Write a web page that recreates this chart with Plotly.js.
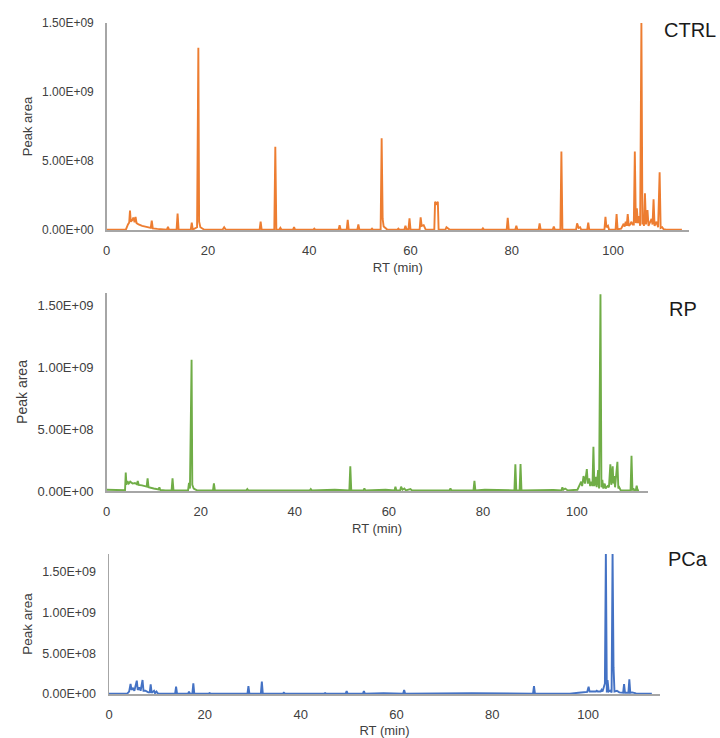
<!DOCTYPE html>
<html>
<head>
<meta charset="utf-8">
<script src="https://cdn.plot.ly/plotly-3.0.1.min.js"></script>
<style>html,body{margin:0;padding:0;background:#fff;}#chart{width:720px;height:738px;}</style>
</head>
<body>
<div id="chart"></div>
<script>
// ---------- data ----------
const sampleNames = ["CTRL", "RP", "PCa"];
const rtTicks = [0, 20, 40, 60, 80, 100];
const rtTickLabels = ["0", "20", "40", "60", "80", "100"];
const areaTicks = [0, 5e8, 1e9, 1.5e9];
const areaTickLabels = ["0.00E+00", "5.00E+08", "1.00E+09", "1.50E+09"];

const ctrlRT = [0,3.8,4.2,4.45,4.6,4.75,5.0,5.3,5.5,5.7,5.9,6.3,7.0,8.0,8.7,8.9,9.1,10.0,11.2,11.9,12.1,12.3,13.8,14.0,14.2,16.6,16.8,17.0,17.85,18.0,18.1,18.25,18.5,19.2,22.9,23.2,23.5,30.2,30.4,30.6,33.1,33.3,33.5,34.1,34.3,34.5,36.8,37.0,37.2,40.8,41.0,41.2,45.8,46.0,46.2,47.4,47.6,47.8,49.5,49.7,49.9,52.2,52.4,52.6,54.1,54.3,54.5,54.7,55.0,55.4,57.4,57.6,57.8,58.8,59.0,59.2,59.6,59.8,60.0,61.8,62.0,62.2,62.6,63.0,64.7,64.85,65.15,65.4,65.55,66.9,67.1,67.4,67.7,74.1,74.3,74.5,79.0,79.2,79.4,80.7,80.9,81.1,85.3,85.5,85.7,88.1,88.3,88.5,89.6,89.8,90.0,92.7,92.9,93.2,93.5,93.7,94.9,95.1,95.3,98.3,98.5,98.7,99.0,99.2,100.5,100.7,100.9,101.6,102.1,102.3,102.5,102.7,102.9,103.1,103.4,103.6,103.9,104.1,104.3,104.5,104.7,104.9,105.1,105.35,105.6,105.8,105.95,106.1,106.3,106.5,106.8,107.0,107.3,107.6,107.8,108.0,108.2,108.6,108.9,109.2,109.4,109.7,110.0,110.5,113.6];
const ctrlArea = [3e6,4e6,4e7,5.5e7,1.4e8,6e7,7e7,9e7,5.5e7,9.4e7,5e7,4e7,3e7,1.8e7,1.5e7,6.7e7,1.2e7,8e6,5e6,3e6,2.4e7,3e6,3e6,1.2e8,3e6,3e6,5.3e7,3e6,2e7,1.0e9,1.32e9,6e7,2e7,4e6,3e6,2e7,3e6,3e6,6e7,3e6,3e6,6.04e8,3e6,3e6,1.5e7,3e6,3e6,2e7,3e6,3e6,1e7,3e6,3e6,3.4e7,3e6,3e6,7.3e7,3e6,3e6,4e7,3e6,3e6,1e7,3e6,3e6,6.65e8,8e7,2.5e7,1.5e7,3e6,3e6,1e7,3e6,3e6,3e7,5e6,5e6,8.5e7,3e6,3e6,9.2e7,3e7,3.5e7,3e6,3e6,2.05e8,1.9e8,2.05e8,3e6,3e6,2e7,1.2e7,3e6,3e6,1.2e7,3e6,3e6,8.9e7,3e6,3e6,3e7,3e6,3e6,4.8e7,3e6,3e6,2.5e7,3e6,3e6,5.68e8,3e6,3e6,4.8e7,1.5e7,2e7,3e6,3e6,5.3e7,3e6,3e6,9.6e7,2e7,3e7,3e6,3e6,1.15e8,5e6,1e7,4.5e7,2.5e7,6e7,3e7,1.15e8,3e7,4e7,6e7,4e7,4e7,5.68e8,5e7,1.57e8,5e7,1e8,3e7,1.5e9,4e7,1.0e8,3e7,2.66e8,4e7,1.45e8,3e7,5e7,8e7,4e7,2.22e8,3e7,6e7,2e7,4.18e8,1.5e7,2e7,5e6,3e6,3e6];

const rpRT = [0,3.9,4.05,4.2,4.4,4.7,5.0,5.5,6.0,6.4,6.6,6.8,7.5,8.5,8.7,8.9,10.0,11.0,11.2,11.4,12.5,13.8,14.0,14.2,17.3,17.5,17.7,17.9,18.05,18.2,18.5,19.2,22.6,22.8,23.0,29.7,29.9,30.1,43.2,43.4,43.6,48.5,49.9,51.6,51.8,52.0,54.6,54.8,55.0,57.8,59.3,61.2,61.4,61.6,62.4,62.6,62.9,63.3,63.6,64.6,64.9,72.9,73.1,73.3,78.0,78.2,78.4,80.4,86.7,86.9,87.1,87.8,88.0,88.2,92.6,95.0,96.7,96.9,97.1,97.5,97.7,98.0,100.1,100.9,101.1,101.4,101.7,102.1,102.3,102.6,102.8,103.1,103.3,103.5,103.7,104.0,104.2,104.5,104.7,105.0,105.2,105.4,105.6,105.9,106.1,106.5,106.8,107.1,107.3,107.6,107.75,107.9,108.1,108.6,108.8,109.0,109.3,111.4,111.6,111.8,112.0,112.2,112.5,112.7,112.9,113.2];
const rpArea = [1e7,6e6,1.5e8,5e7,8e7,6e7,7.5e7,6e7,6.5e7,5.5e7,8e7,5e7,4.5e7,3.5e7,1.02e8,3e7,2e7,1.2e7,3e7,8e6,5e6,5e6,1.02e8,5e6,5e6,6.5e7,2e7,7.3e8,1.06e9,5e7,2e7,5e6,5e6,6.2e7,5e6,5e6,1.5e7,5e6,5e6,1.5e7,5e6,1e7,1e7,5e6,2.0e8,5e6,5e6,2e7,5e6,1e7,1e7,5e6,3.5e7,5e6,5e6,3.5e7,1e7,2e7,5e6,1.6e7,5e6,5e6,2e7,5e6,5e6,8.3e7,5e6,1e7,5e6,2.15e8,5e6,5e6,2.17e8,5e6,1e7,8e6,5e6,3e7,1e7,2e7,1.5e7,5e6,1e7,7.5e7,4e7,1.21e8,6e7,1.77e8,6e7,1.02e8,4e7,7.5e7,4e7,3.57e8,4e7,1.15e8,3e7,1.69e8,2e7,1.59e9,3e7,9e7,2e7,6e7,2e7,4e7,3e7,2.15e8,5e7,2.0e8,6e7,1.2e8,3e7,2.36e8,2e7,3e7,5e6,5e6,2.85e8,5e6,2e7,5e6,5e6,4.3e7,5e6,5e6];

const pcaRT = [0,1.8,2.0,3.8,4.2,4.5,4.7,5.0,5.3,5.8,6.0,6.3,6.6,7.0,7.2,7.6,8.2,8.5,8.7,8.9,9.4,9.6,9.9,10.2,11.0,13.8,14.0,14.2,16.5,16.7,16.9,17.4,17.6,17.8,20.8,21.0,21.2,28.9,29.1,29.3,31.7,31.9,32.1,36.3,36.5,36.7,44.9,45.1,45.3,49.4,49.6,49.8,53.0,53.2,53.4,57.3,61.4,61.6,61.8,67.4,75.7,88.5,88.7,88.9,96.2,98.0,99.8,100.1,100.3,101.6,101.8,102.0,102.6,102.8,103.0,103.5,103.7,103.9,104.05,104.3,104.6,104.9,105.1,105.3,105.5,106.0,106.5,107.3,107.5,107.7,108.4,108.6,108.8,109.2,110.0,113.3];
const pcaArea = [5e6,3e6,1e6,5e6,3e7,1.23e8,5e7,7e7,4e7,1.64e8,5e7,8e7,4e7,1.72e8,4e7,4e7,2e7,2e7,1.19e8,1.5e7,4e7,1e7,3e7,8e6,5e6,5e6,9e7,5e6,5e6,2.9e7,5e6,5e6,1.31e8,5e6,5e6,1.2e7,5e6,5e6,9.8e7,5e6,5e6,1.52e8,5e6,5e6,1.5e7,5e6,5e6,1.2e7,5e6,5e6,3.7e7,5e6,5e6,3.7e7,5e6,1e7,5e6,4.9e7,5e6,1e7,1e7,5e6,9.8e7,5e6,5e6,1.5e7,2.5e7,9e7,3e7,3e7,4e7,3e7,3e7,5e7,3e7,1.3e8,1.75e9,2e7,1.7e8,3e7,4e7,2e7,1.75e9,3.3e8,3e7,4e7,2e7,1.5e7,1.23e8,1.5e7,1.5e7,1.8e8,1.5e7,2e7,8e6,5e6];

const seriesColors = ["#ED7D31", "#70AD47", "#4472C4"];
const areaMax = [1.5e9, 1.6e9, 1.72e9];

// ---------- traces ----------
const rts = [ctrlRT, rpRT, pcaRT];
const areas = [ctrlArea, rpArea, pcaArea];
const traces = sampleNames.map((name, i) => ({
  type: "scatter",
  mode: "lines",
  name: name,
  x: rts[i],
  y: areas[i],
  xaxis: i === 0 ? "x" : "x" + (i + 1),
  yaxis: i === 0 ? "y" : "y" + (i + 1),
  line: { color: seriesColors[i], width: 1.9 },
  hoverinfo: "skip"
}));

// ---------- layout ----------
const W = 720, H = 738;
const FONT = "Liberation Sans, Arial, sans-serif";
// pixel boxes of the three plot areas: [left, right, top, bottom]
const boxes = [[106.7, 689, 23, 230], [106.7, 647.5, 293, 491], [109, 660, 554, 694]];
const ytitleSize = [13, 14, 13.5];
const ytickSize = [12, 13, 12.5];

function xAxis(i) {
  const b = boxes[i];
  return {
    domain: [b[0] / W, b[1] / W],
    anchor: i === 0 ? "y" : "y" + (i + 1),
    range: [0, 115],
    tickvals: rtTicks,
    ticktext: rtTickLabels,
    ticks: "",
    ticklabelstandoff: 8,
    showgrid: false,
    zeroline: false,
    showline: true,
    linecolor: "#a6a6a6",
    linewidth: 1.5,
    layer: "below traces",
    tickfont: { family: FONT, size: 13, color: "#404040" },
    title: { text: "RT (min)", font: { family: FONT, size: 13, color: "#404040" }, standoff: 6 },
    fixedrange: true
  };
}
function yAxis(i) {
  const b = boxes[i];
  return {
    domain: [1 - b[3] / H, 1 - b[2] / H],
    anchor: i === 0 ? "x" : "x" + (i + 1),
    range: [0, areaMax[i]],
    tickvals: areaTicks,
    ticktext: areaTickLabels,
    ticks: "",
    ticklabelstandoff: 9,
    showgrid: false,
    zeroline: false,
    showline: true,
    linecolor: "#a6a6a6",
    linewidth: 1.5,
    layer: "below traces",
    tickfont: { family: FONT, size: ytickSize[i], color: "#404040" },
    title: { text: "Peak area", font: { family: FONT, size: ytitleSize[i], color: "#404040" }, standoff: 6 },
    fixedrange: true
  };
}

const labelPos = [[662, 29.7], [666.7, 309], [666, 559]];
const layout = {
  width: W, height: H,
  margin: { l: 0, r: 0, t: 0, b: 0 },
  paper_bgcolor: "#ffffff",
  plot_bgcolor: "#ffffff",
  showlegend: false,
  hovermode: false,
  xaxis: xAxis(0), yaxis: yAxis(0),
  xaxis2: xAxis(1), yaxis2: yAxis(1),
  xaxis3: xAxis(2), yaxis3: yAxis(2),
  annotations: sampleNames.map((name, i) => ({
    text: name,
    xref: "paper", yref: "paper",
    x: labelPos[i][0] / W, y: 1 - labelPos[i][1] / H,
    xanchor: "left", yanchor: "middle",
    showarrow: false,
    font: { family: FONT, size: 20, color: "#1a1a1a" }
  }))
};

Plotly.newPlot("chart", traces, layout, { staticPlot: true, displayModeBar: false });
</script>
</body>
</html>
